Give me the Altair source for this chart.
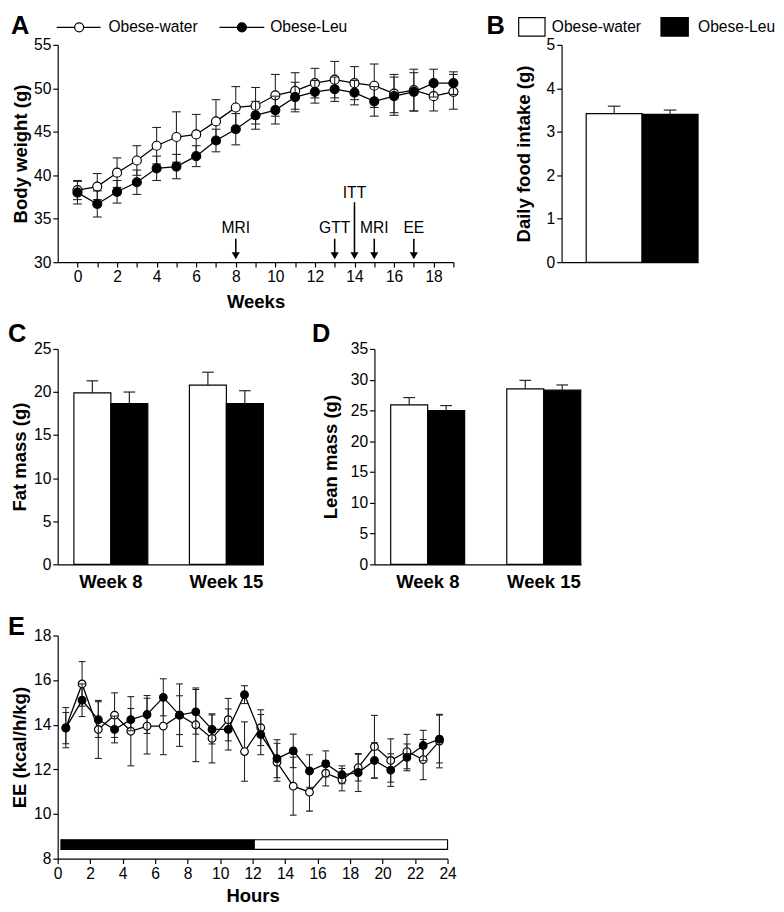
import altair as alt
import pandas as pd

FONT = "Liberation Sans"
WATER = "Obese-water"
LEU = "Obese-Leu"
GROUPS = [WATER, LEU]

# ---------------- Panel A: body weight ----------------
weeks = [0, 1, 2, 3, 4, 5, 6, 7, 8, 9, 10, 11, 12, 13, 14, 15, 16, 17, 18, 19]
bw_water = [38.3, 38.7, 40.3, 41.7, 43.4, 44.4, 44.7, 46.2, 47.8, 48.0,
            49.2, 49.7, 50.6, 51.0, 50.6, 50.3, 49.4, 49.8, 49.1, 49.6]
bw_water_sem = [1.1, 1.5, 1.7, 1.7, 2.1, 2.9, 2.3, 2.5, 2.4, 2.1,
                2.4, 2.1, 1.7, 2.1, 1.9, 2.5, 2.2, 2.4, 1.7, 2.0]
bw_leu = [38.0, 36.7, 38.1, 39.2, 40.8, 41.0, 42.2, 44.0, 45.3, 46.9,
          47.5, 49.0, 49.6, 49.9, 49.5, 48.5, 49.1, 49.6, 50.6, 50.6]
bw_leu_sem = [1.3, 1.5, 1.3, 1.4, 1.4, 1.4, 1.2, 1.3, 1.8, 1.6,
              1.6, 1.7, 1.3, 1.4, 1.4, 1.7, 2.2, 2.2, 1.6, 1.3]

arrow_weeks = [8, 13, 14, 15, 17]
arrow_labels = ["MRI", "GTT", "ITT", "MRI", "EE"]
arrow_top = [32.7, 32.7, 36.9, 32.7, 32.7]
arrow_label_y = [33.0, 33.0, 37.1, 33.0, 33.0]

# ---------------- Panel B: food intake ----------------
food_mean = [3.42, 3.40]
food_sem = [0.17, 0.10]

# ---------------- Panels C, D: body composition ----------------
mri_weeks = ["Week 8", "Week 15"]
fat_water = [19.9, 20.8]
fat_water_sem = [1.4, 1.5]
fat_leu = [18.65, 18.65]
fat_leu_sem = [1.35, 1.5]
lean_water = [25.9, 28.5]
lean_water_sem = [1.2, 1.4]
lean_leu = [25.0, 28.3]
lean_leu_sem = [0.8, 0.85]

# ---------------- Panel E: energy expenditure ----------------
hours = [0.5, 1.5, 2.5, 3.5, 4.5, 5.5, 6.5, 7.5, 8.5, 9.5, 10.5, 11.5,
         12.5, 13.5, 14.5, 15.5, 16.5, 17.5, 18.5, 19.5, 20.5, 21.5, 22.5, 23.5]
ee_water = [13.87, 15.83, 13.79, 14.43, 13.71, 13.94, 13.94, 14.43, 14.0, 13.39, 14.23, 12.8,
            13.87, 12.32, 11.25, 10.98, 11.83, 11.54, 12.08, 13.02, 12.4, 12.8, 12.44, 13.27]
ee_water_sem = [0.9, 1.0, 1.3, 1.0, 1.55, 1.25, 1.28, 1.4, 1.65, 1.1, 0.95, 1.33,
                0.8, 0.85, 1.3, 0.85, 0.57, 0.5, 0.6, 1.4, 0.97, 0.77, 0.9, 1.2]
ee_leu = [13.85, 15.1, 14.23, 13.79, 14.23, 14.46, 15.23, 14.43, 14.58, 13.79, 13.79, 15.35,
          13.56, 12.48, 12.83, 11.93, 12.25, 11.76, 11.86, 12.4, 11.97, 12.54, 13.07, 13.36]
ee_leu_sem = [0.7, 0.73, 0.8, 0.6, 0.5, 0.85, 0.83, 0.87, 1.0, 0.65, 0.92, 0.4,
              0.9, 0.85, 0.75, 0.73, 0.58, 0.4, 0.85, 0.8, 0.73, 0.6, 0.68, 1.07]
phase_names = ["dark", "light"]
phase_start = [0.2, 12.1]
phase_end = [12.1, 24.0]

ONE = pd.DataFrame({"k": [0]})


def letter(txt, x, y):
    return alt.Chart(ONE).mark_text(
        text=txt, font=FONT, fontSize=26, fontWeight="bold", align="left", baseline="top", color="black"
    ).encode(x=alt.value(x), y=alt.value(y))


def series(df, group, xenc, yfield, scale, axis, fill, size, capw):
    base = alt.Chart(df).transform_filter(alt.datum.group == group)
    y = alt.Y(f"{yfield}:Q", scale=scale, axis=axis)
    ylo = alt.Y("lo:Q", scale=scale, axis=axis)
    yhi = alt.Y("hi:Q", scale=scale, axis=axis)
    err = base.mark_rule(color="#222", strokeWidth=1.1).encode(x=xenc, y=ylo, y2="hi:Q")
    cap_lo = base.mark_tick(orient="horizontal", size=capw, thickness=1.1, color="#222", opacity=1).encode(x=xenc, y=ylo)
    cap_hi = base.mark_tick(orient="horizontal", size=capw, thickness=1.1, color="#222", opacity=1).encode(x=xenc, y=yhi)
    line = base.mark_line(color="black", strokeWidth=1.3).encode(x=xenc, y=y)
    pts = base.mark_point(shape="circle", size=size, fill=fill, fillOpacity=1, stroke="black",
                          strokeWidth=1.2, opacity=1).encode(x=xenc, y=y)
    return [err, cap_lo, cap_hi, line, pts]


# ======== Panel A ========
dfA = pd.DataFrame({
    "week": weeks + weeks,
    "bw": bw_water + bw_leu,
    "sem": bw_water_sem + bw_leu_sem,
    "group": [WATER] * len(weeks) + [LEU] * len(weeks),
})
dfA["lo"] = dfA["bw"] - dfA["sem"]
dfA["hi"] = dfA["bw"] + dfA["sem"]

sxA = alt.Scale(domain=[-1, 19], nice=False, zero=False)
axA = alt.Axis(values=weeks, labelExpr="datum.value % 2 === 0 ? datum.label : ''",
               title="Weeks", titlePadding=8, labelOverlap=False, labelFlush=False)
syA = alt.Scale(domain=[30, 55], nice=False, zero=False)
ayA = alt.Axis(values=[30, 35, 40, 45, 50, 55], title="Body weight (g)", titlePadding=3)
xA = alt.X("week:Q", scale=sxA, axis=axA)

dfArr = pd.DataFrame({"week": arrow_weeks, "label": arrow_labels, "top": arrow_top, "label_y": arrow_label_y})
arr_rule = alt.Chart(dfArr).mark_rule(color="black", strokeWidth=1.6).encode(
    x=xA, y=alt.Y("top:Q", scale=syA, axis=ayA), y2=alt.Y2(datum=31.0))
arr_head = alt.Chart(dfArr).mark_point(shape="triangle-down", size=70, filled=True, color="black", opacity=1).encode(
    x=xA, y=alt.Y(datum=30.75))
arr_text = alt.Chart(dfArr).mark_text(font=FONT, fontSize=16, baseline="bottom", color="black").encode(
    x=xA, y=alt.Y("label_y:Q", scale=syA, axis=ayA), text="label:N")

legA = [
    alt.Chart(ONE).mark_rule(color="black", strokeWidth=1.3).encode(x=alt.value(-1), x2=alt.value(44), y=alt.value(-18)),
    alt.Chart(ONE).mark_point(shape="circle", size=85, fill="white", fillOpacity=1, stroke="black", strokeWidth=1.2, opacity=1).encode(x=alt.value(22), y=alt.value(-18)),
    alt.Chart(ONE).mark_text(text=WATER, font=FONT, fontSize=16, align="left", baseline="middle", color="black").encode(x=alt.value(52), y=alt.value(-18)),
    alt.Chart(ONE).mark_rule(color="black", strokeWidth=1.3).encode(x=alt.value(166), x2=alt.value(212), y=alt.value(-18)),
    alt.Chart(ONE).mark_point(shape="circle", size=85, fill="black", fillOpacity=1, stroke="black", strokeWidth=1.2, opacity=1).encode(x=alt.value(189), y=alt.value(-18)),
    alt.Chart(ONE).mark_text(text=LEU, font=FONT, fontSize=16, align="left", baseline="middle", color="black").encode(x=alt.value(218), y=alt.value(-18)),
]

panelA = alt.layer(
    *series(dfA, WATER, xA, "bw", syA, ayA, "white", 85, 9),
    *series(dfA, LEU, xA, "bw", syA, ayA, "black", 85, 9),
    arr_rule, arr_head, arr_text, *legA, letter("A", -48, -32),
).properties(width=406, height=223)

# ======== Panel B ========
dfB = pd.DataFrame({"group": GROUPS, "value": food_mean, "sem": food_sem})
dfB["hi"] = dfB["value"] + dfB["sem"]
xB = alt.X("group:N", sort=GROUPS,
           scale=alt.Scale(domain=GROUPS, paddingInner=0, paddingOuter=0.22, align=1),
           axis=alt.Axis(title=None, labels=False, ticks=False, domain=True))
syB = alt.Scale(domain=[0, 5], nice=False)
ayB = alt.Axis(values=[0, 1, 2, 3, 4, 5], title="Daily food intake (g)", titlePadding=13)
fillG = alt.Fill("group:N", scale=alt.Scale(domain=GROUPS, range=["white", "black"]), legend=None)

barsB = alt.Chart(dfB).mark_bar(stroke="black", strokeWidth=1.2).encode(
    x=xB, y=alt.Y("value:Q", scale=syB, axis=ayB), fill=fillG)
errB = alt.Chart(dfB).mark_rule(color="#222", strokeWidth=1.2).encode(
    x=xB, y=alt.Y("value:Q", scale=syB, axis=ayB), y2="hi:Q")
capB = alt.Chart(dfB).mark_tick(orient="horizontal", size=13, thickness=1.2, color="#222", opacity=1).encode(
    x=xB, y=alt.Y("hi:Q", scale=syB, axis=ayB))
legB = [
    alt.Chart(ONE).mark_rect(fill="white", stroke="black", strokeWidth=1.2).encode(
        x=alt.value(-44), x2=alt.value(-17), y=alt.value(-28), y2=alt.value(-9)),
    alt.Chart(ONE).mark_text(text=WATER, font=FONT, fontSize=16, align="left", baseline="middle", color="black").encode(
        x=alt.value(-10), y=alt.value(-18)),
    alt.Chart(ONE).mark_rect(fill="black", stroke="black", strokeWidth=1.2).encode(
        x=alt.value(102), x2=alt.value(130), y=alt.value(-28), y2=alt.value(-9)),
    alt.Chart(ONE).mark_text(text=LEU, font=FONT, fontSize=16, align="left", baseline="middle", color="black").encode(
        x=alt.value(140), y=alt.value(-18)),
]
panelB = alt.layer(barsB, errB, capB, *legB, letter("B", -77, -32)).properties(width=140, height=223)


# ======== Panels C, D ========
def grouped(wvals, wsem, lvals, lsem, ymax, title, width, tpad, let, letx):
    df = pd.DataFrame({
        "week": mri_weeks + mri_weeks,
        "group": [WATER] * 2 + [LEU] * 2,
        "value": wvals + lvals,
        "sem": wsem + lsem,
    })
    df["hi"] = df["value"] + df["sem"]
    x = alt.X("week:N", sort=mri_weeks,
              scale=alt.Scale(domain=mri_weeks, paddingInner=0.36, paddingOuter=0.07, align=1),
              axis=alt.Axis(title=None, ticks=False, tickSize=0, labelAngle=0, labelFontWeight="bold",
                            labelFontSize=19, labelPadding=9))
    xo = alt.XOffset("group:N", sort=GROUPS, scale=alt.Scale(domain=GROUPS, paddingInner=0, paddingOuter=0))
    sy = alt.Scale(domain=[0, ymax], nice=False)
    ay = alt.Axis(values=list(range(0, ymax + 1, 5)), title=title, titlePadding=tpad)
    bars = alt.Chart(df).mark_bar(stroke="black", strokeWidth=1.2).encode(
        x=x, xOffset=xo, y=alt.Y("value:Q", scale=sy, axis=ay), fill=fillG)
    err = alt.Chart(df).mark_rule(color="#222", strokeWidth=1.2).encode(
        x=x, xOffset=xo, y=alt.Y("value:Q", scale=sy, axis=ay), y2="hi:Q")
    cap = alt.Chart(df).mark_tick(orient="horizontal", size=12, thickness=1.2, color="#222", opacity=1).encode(
        x=x, xOffset=xo, y=alt.Y("hi:Q", scale=sy, axis=ay))
    return alt.layer(bars, err, cap, letter(let, letx, -28)).properties(width=width, height=221)


panelC = grouped(fat_water, fat_water_sem, fat_leu, fat_leu_sem, 25, "Fat mass (g)", 211, 4, "C", -51)
panelD = grouped(lean_water, lean_water_sem, lean_leu, lean_leu_sem, 35, "Lean mass (g)", 212, 10, "D", -64)

# ======== Panel E ========
dfE = pd.DataFrame({
    "hour": hours + hours,
    "ee": ee_water + ee_leu,
    "sem": ee_water_sem + ee_leu_sem,
    "group": [WATER] * len(hours) + [LEU] * len(hours),
})
dfE["lo"] = dfE["ee"] - dfE["sem"]
dfE["hi"] = dfE["ee"] + dfE["sem"]
sxE = alt.Scale(domain=[0, 24], nice=False, zero=False)
axE = alt.Axis(values=list(range(0, 25, 2)), title="Hours", titlePadding=6, labelFlush=False, labelOverlap=False)
syE = alt.Scale(domain=[8, 18], nice=False, zero=False)
ayE = alt.Axis(values=[8, 10, 12, 14, 16, 18], title="EE (kcal/h/kg)", titlePadding=4)
xE = alt.X("hour:Q", scale=sxE, axis=axE)

dfLD = pd.DataFrame({"phase": phase_names, "start": phase_start, "end": phase_end})
ld_layers = []
for ph, col in zip(phase_names, ["black", "white"]):
    ld_layers.append(
        alt.Chart(dfLD).transform_filter(alt.datum.phase == ph).mark_rect(
            fill=col, stroke="black", strokeWidth=1.2
        ).encode(
            x=alt.X("start:Q", scale=sxE, axis=axE), x2="end:Q",
            y=alt.Y(datum=8.42), y2=alt.Y2(datum=8.85),
        )
    )

panelE = alt.layer(
    *ld_layers,
    *series(dfE, WATER, xE, "ee", syE, ayE, "white", 62, 7),
    *series(dfE, LEU, xE, "ee", syE, ayE, "black", 62, 7),
    letter("E", -51, -21),
).properties(width=400, height=229)

row1 = alt.hconcat(panelA, panelB, spacing=26)
row2 = alt.hconcat(panelC, panelD, spacing=49)
lower = alt.vconcat(row2, panelE, spacing=24)
chart = alt.vconcat(row1, lower, spacing=11).properties(
    padding={"top": -6, "left": 0, "right": 0, "bottom": 0}
).configure(font=FONT).configure_view(
    stroke=None
).configure_axis(
    labelFont=FONT, titleFont=FONT, labelFontSize=16, titleFontSize=19, titleFontWeight="bold",
    labelColor="black", titleColor="black", domainColor="black", tickColor="black",
    tickSize=5, labelPadding=2, grid=False, domainWidth=1.2, tickWidth=1.2,
)

chart.save("out.html", embed_options={"renderer": "svg", "actions": False})
